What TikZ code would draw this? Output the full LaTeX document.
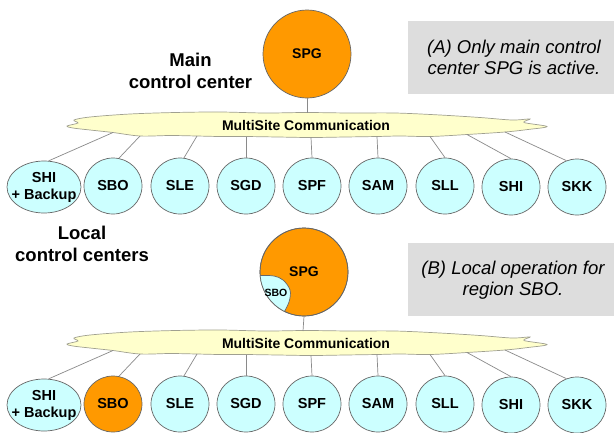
\documentclass[tikz,border=0pt]{standalone}
\usepackage{fontspec}
\setmainfont{Liberation Sans}
\usetikzlibrary{shapes.geometric}
\definecolor{orng}{HTML}{FF9900}
\definecolor{cyn}{HTML}{CCFFFF}
\definecolor{yel}{HTML}{FFFFCC}
\definecolor{gbox}{HTML}{DDDDDD}
\definecolor{edgec}{HTML}{666666}
\definecolor{wirec}{HTML}{8A8A8A}
\definecolor{cloudc}{HTML}{A0A090}
\newcommand{\mycloud}{plot[smooth cycle, tension=0.55] coordinates {(67,126) (78,123) (74,120) (90,117) (130,114) (175,112.5) (220,112) (265,113) (306,112.5) (350,113) (395,113) (440,115) (480,117.5) (512,120) (530,119) (524,122.5) (547,126.5) (528,129.5) (505,132) (467,134.5) (430,136.5) (400,136) (377,136.5) (345,137) (311,137.5) (278,137) (245,136.5) (220,136.5) (197,136) (170,135.5) (140,136) (113,132.5) (90,130) (73,128)}}
\begin{document}
\begin{tikzpicture}[x=1pt,y=-1pt,
 site/.style={ellipse, draw=edgec, line width=0.7pt, fill=cyn, minimum width=58pt, minimum height=56pt, inner sep=0pt, font=\bfseries\fontsize{14.5}{17}\selectfont, align=center},
 widesite/.style={site, minimum width=74pt, minimum height=52pt},
 ctr/.style={ellipse, draw=edgec, line width=0.7pt, fill=orng, minimum width=88pt, minimum height=88pt, inner sep=0pt, font=\bfseries\fontsize{14}{17}\selectfont},
 wire/.style={draw=wirec, line width=0.7pt},
 cloudsty/.style={draw=cloudc, fill=yel, line width=0.7pt},
 heading/.style={font=\bfseries\fontsize{18.5}{22}\selectfont, align=center},
 note/.style={font=\itshape\fontsize{18.5}{21}\selectfont, align=center},
 cloudtext/.style={font=\bfseries\fontsize{14}{17}\selectfont},
 greybox/.style={fill=gbox, draw=none}]
\useasboundingbox (0,0) rectangle (614,432);
\fill[white] (0,0) rectangle (614,432);

% ---------- grey boxes ----------
\fill[greybox] (408,21) rectangle (614,94);
\node[note] (notea) at (514,57.5) {(A) Only main control\\center SPG is active.};
\fill[greybox] (408,243) rectangle (614,316);
\node[note] (noteb) at (513,280) {(B) Local operation for\\region SBO.};

% ---------- headings ----------
\node[heading] (mainh) at (190.5,71) {Main\\control center};
\node[heading] (localh) at (82,244) {Local\\control centers};

% ---------- two halves ----------
\foreach \p/\dy/\sx/\sbofill in {t/0/307/cyn, b/218/303/orng} {
  \begin{scope}[shift={(0,\dy)}]
    \coordinate (\p top) at (\sx,113);
    \path[cloudsty] \mycloud;
    \node[cloudtext] (\p cloud) at (306,125) {MultiSite Communication};
    \coordinate (\p a1) at (113,132.5);
    \coordinate (\p a2) at (140,136);
    \coordinate (\p a3) at (197,136);
    \coordinate (\p a4) at (246,136.5);
    \coordinate (\p a5) at (311,137.5);
    \coordinate (\p a6) at (377,136.5);
    \coordinate (\p a7) at (430,136.5);
    \coordinate (\p a8) at (467,134.5);
    \coordinate (\p a9) at (505,132);
    \node[widesite, label={[font=\bfseries\fontsize{14.5}{17}\selectfont, align=center]center:SHI\\+ Backup}] (\p n1) at (44,187) {};
    \node[site, fill=\sbofill] (\p n2) at (113,186) {SBO};
    \node[site] (\p n3) at (180,186) {SLE};
    \node[site] (\p n4) at (246,186) {SGD};
    \node[site] (\p n5) at (312,186) {SPF};
    \node[site] (\p n6) at (378,186) {SAM};
    \node[site] (\p n7) at (445,186) {SLL};
    \node[site] (\p n8) at (511,187) {SHI};
    \node[site] (\p n9) at (577,187) {SKK};
    \draw[wire] (\p a1) -- (\p n1.80);
    \draw[wire] (\p a2) -- (\p n2.78);
    \draw[wire] (\p a3) -- (\p n3.82);
    \draw[wire] (\p a4) -- (\p n4.north);
    \draw[wire] (\p a5) -- (\p n5.north);
    \draw[wire] (\p a6) -- (\p n6.north);
    \draw[wire] (\p a7) -- (\p n7.north);
    \draw[wire] (\p a8) -- (\p n8.north);
    \draw[wire] (\p a9) -- (\p n9.112);
  \end{scope}
}

% ---------- control centres ----------
\node[ctr] (tspg) at (307,54) {SPG};
\draw[wire] (tspg.south) -- (ttop);

\node[ctr] (bspg) at (304,272) {};
\draw[wire] (bspg.south) -- (btop);
\begin{scope}
  \clip (304,272) circle (44);
  \fill[cyn] plot[smooth, tension=0.6] coordinates {(255,276) (264,275.5) (274,276) (283,280) (290,290) (289,302) (283,314)} -- (270,330) -- (240,320) -- cycle;
  \draw[edgec, line width=0.7pt] plot[smooth, tension=0.6] coordinates {(255,276) (264,275.5) (274,276) (283,280) (290,290) (289,302) (283,314)};
\end{scope}
\draw[edgec, line width=0.7pt] (bspg) circle (44);
\node[font=\bfseries\fontsize{14}{17}\selectfont] (bspgl) at (304,272) {SPG};
\node[font=\bfseries\fontsize{10.5}{12}\selectfont] (bsbo) at (276,293) {SBO};
\end{tikzpicture}
\end{document}
